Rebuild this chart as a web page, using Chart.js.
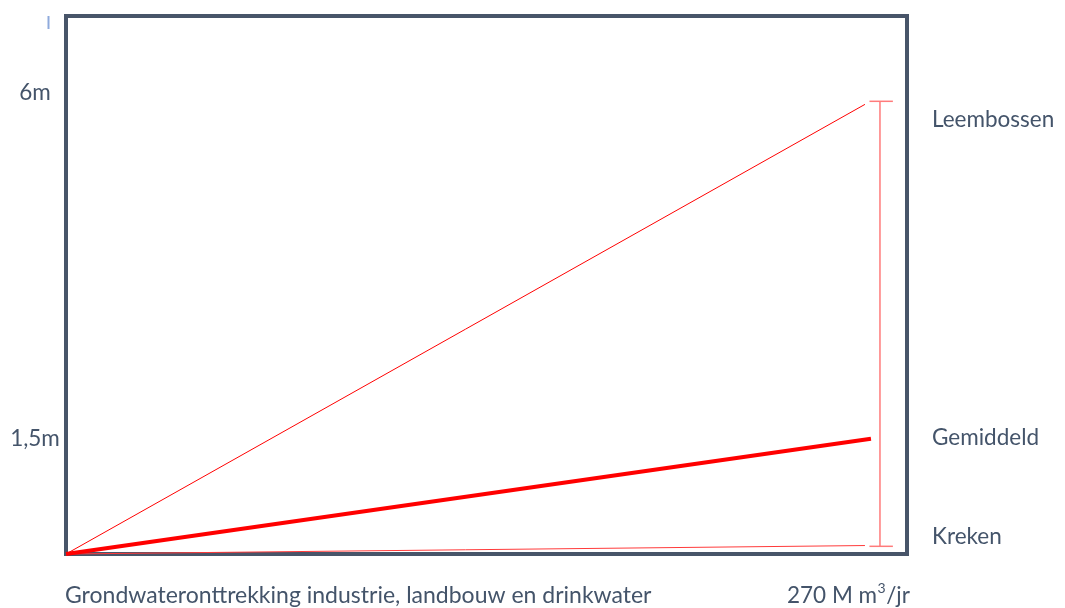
<!DOCTYPE html>
<html><head><meta charset="utf-8">
<script src="https://cdn.jsdelivr.net/npm/chart.js@4"></script>
<style>html,body{margin:0;padding:0;background:#fff}#wrap{width:1065px;height:608px}</style>
</head><body><div id="wrap"><canvas id="c" width="1065" height="608"></canvas></div>
<script>
// Data (x: M m³/jr, y: meters of groundwater decline)
const seriesNames = ['Leembossen', 'Gemiddeld', 'Kreken'];
const startX = 0, startY = 0;
const endX = [266, 268, 266];
const endY = [5.85, 1.5, 0.11];
const rangeX = 271;
const rangeLow = 0.1, rangeHigh = 5.89;
const yTickValues = [6, 1.5];
const yTickLabels = ['6m', '1,5m'];
const xAxisTitle = 'Grondwateronttrekking industrie, landbouw en drinkwater';
const xMaxLabel = ['270 M m', '3', '/jr'];

const TEXT = '#44546a';
const FONT = 'Lato, "Open Sans", sans-serif';

const datasets = seriesNames.map((n, i) => ({
  label: n,
  data: [{x: startX, y: startY}, {x: endX[i], y: endY[i]}],
  borderColor: i === 2 ? '#ff3a3a' : '#ff0000',
  borderWidth: i === 1 ? 4 : 1,
  pointRadius: 0, tension: 0, clip: false
}));
datasets.push({label: 'range', data: [{x: rangeX, y: rangeLow}, {x: rangeX, y: rangeHigh}],
  borderColor: '#ff7b7b', borderWidth: 1.5, pointRadius: 0, clip: false});
datasets.push({label: 'capTop', data: [{x: rangeX - 3.5, y: rangeHigh}, {x: rangeX + 4.3, y: rangeHigh}],
  borderColor: '#ff7b7b', borderWidth: 1.5, pointRadius: 0, clip: false});
datasets.push({label: 'capLow', data: [{x: rangeX - 3.5, y: rangeLow}, {x: rangeX + 4.3, y: rangeLow}],
  borderColor: '#ff7b7b', borderWidth: 1.5, pointRadius: 0, clip: false});

const deco = {
  id: 'deco',
  beforeDatasetsDraw(chart) {
    const {ctx, chartArea: a} = chart;
    ctx.save();
    ctx.strokeStyle = '#485569';
    ctx.lineWidth = 4;
    ctx.strokeRect(a.left, a.top, a.right - a.left, a.bottom - a.top);
    ctx.restore();
  },
  afterDraw(chart) {
    const {ctx, chartArea: a, scales: {x, y}} = chart;
    ctx.save();
    ctx.fillStyle = TEXT;
    ctx.font = '22.5px ' + FONT;
    ctx.textBaseline = 'middle';
    // y tick labels
    ctx.textAlign = 'center';
    yTickValues.forEach((v, i) => ctx.fillText(yTickLabels[i], 35, y.getPixelForValue(v)));
    // small blue mark
    ctx.strokeStyle = '#8faadc'; ctx.lineWidth = 2;
    ctx.beginPath(); ctx.moveTo(48.5, 16); ctx.lineTo(48.5, 29); ctx.stroke();
    // series labels on the right
    ctx.textAlign = 'left';
    const labelY = [120, 438, 537];
    seriesNames.forEach((n, i) => ctx.fillText(n, 932, labelY[i]));
    // x axis title
    ctx.font = '23px ' + FONT;
    ctx.fillText(xAxisTitle, 65, 596);
    // x max label with superscript
    ctx.font = '22.5px ' + FONT;
    let px = 787;
    ctx.fillText(xMaxLabel[0], px, 596);
    px += ctx.measureText(xMaxLabel[0]).width;
    ctx.font = '14px ' + FONT;
    ctx.fillText(xMaxLabel[1], px + 0.5, 588);
    px += ctx.measureText(xMaxLabel[1]).width + 1;
    ctx.font = '22.5px ' + FONT;
    ctx.fillText(xMaxLabel[2], px, 596);
    ctx.restore();
  }
};

new Chart(document.getElementById('c'), {
  type: 'line',
  data: {datasets},
  options: {
    responsive: false, animation: false,
    layout: {padding: {left: 66, top: 16, right: 158, bottom: 54}},
    plugins: {legend: {display: false}, tooltip: {enabled: false}},
    scales: {
      x: {type: 'linear', min: 0, max: 280, display: false},
      y: {type: 'linear', min: 0, max: 7, display: false}
    }
  },
  plugins: [deco]
});
</script></body></html>
